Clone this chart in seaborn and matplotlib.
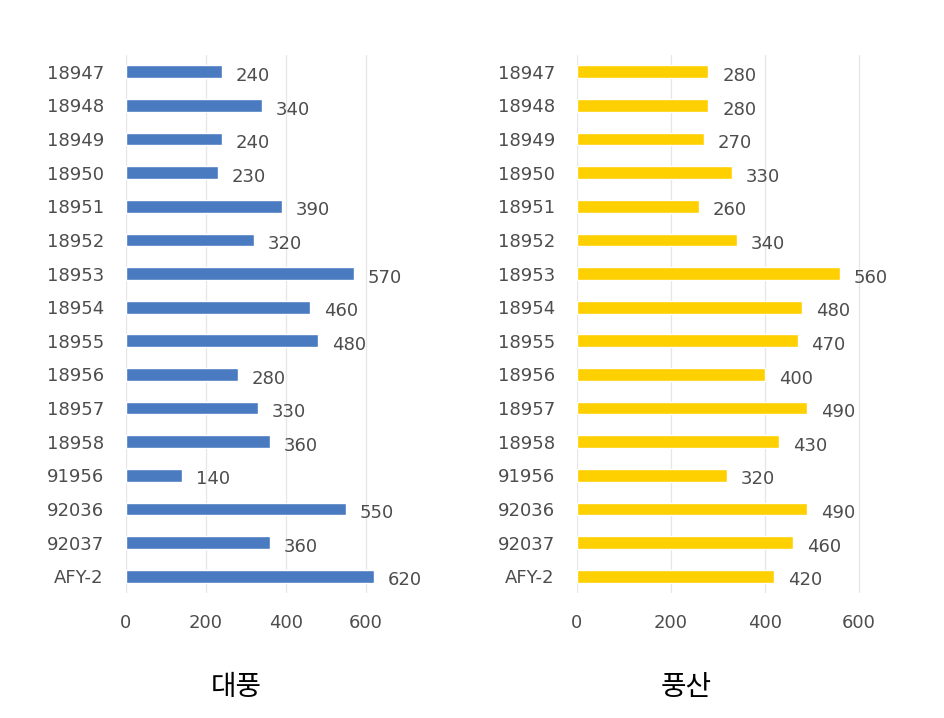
import pandas as pd
import numpy as np
import seaborn as sns
import matplotlib.pyplot as plt

# 품종 목록과 값
varieties = ["18947", "18948", "18949", "18950", "18951", "18952", "18953", "18954",
             "18955", "18956", "18957", "18958", "91956", "92036", "92037", "AFY-2"]
daepung = [240, 340, 240, 230, 390, 320, 570, 460, 480, 280, 330, 360, 140, 550, 360, 620]
pungsan = [280, 280, 270, 330, 260, 340, 560, 480, 470, 400, 490, 430, 320, 490, 460, 420]
titles = ["대풍", "풍산"]
ticks = [0, 200, 400, 600]

sns.set_style("white")
plt.rcParams['font.family'] = ['DejaVu Sans', 'Noto Sans CJK KR']

fig = plt.figure(figsize=(9.45, 7.18), dpi=100)
W, H = 945, 718
# 축 위치 (픽셀 기준으로 맞춤)
ax1 = fig.add_axes([126 / W, 1 - 593 / H, 280 / W, 538 / H])
ax2 = fig.add_axes([577 / W, 1 - 593 / H, 305 / W, 538 / H])

grey = '#4D4D4D'
for ax, vals, color, xmax, title in [(ax1, daepung, '#4A7BC0', 700, titles[0]),
                                      (ax2, pungsan, '#FFD000', 650, titles[1])]:
    df = pd.DataFrame({"variety": varieties, "value": vals})
    sns.barplot(data=df, x="value", y="variety", orient="h", color=color,
                width=0.38, saturation=1, ax=ax)
    txts = ax.bar_label(ax.containers[0], padding=10, fontsize=13, color=grey)
    for t in txts:
        t.xyann = (t.xyann[0], -3)
    ax.set_xlim(0, xmax)
    ax.set_ylim(15.5, -0.5)
    ax.set_xticks(ticks)
    ax.grid(axis='x', color='#E6E6E6', linewidth=0.9)
    ax.set_axisbelow(True)
    for s in ax.spines.values():
        s.set_visible(False)
    ax.tick_params(axis='y', length=0, pad=16, labelsize=13, labelcolor=grey)
    ax.tick_params(axis='x', length=0, pad=15, labelsize=13, labelcolor=grey)
    ax.set_xlabel("")
    ax.set_ylabel("")
    ax.set_title(title, y=-0.2, fontsize=20, family=['Noto Sans CJK KR'], color='black')

ax1.title.set_position(((236 - 126) / 280, -0.205))
ax2.title.set_position(((686 - 577) / 305, -0.205))

plt.savefig('out.png', dpi=100)
